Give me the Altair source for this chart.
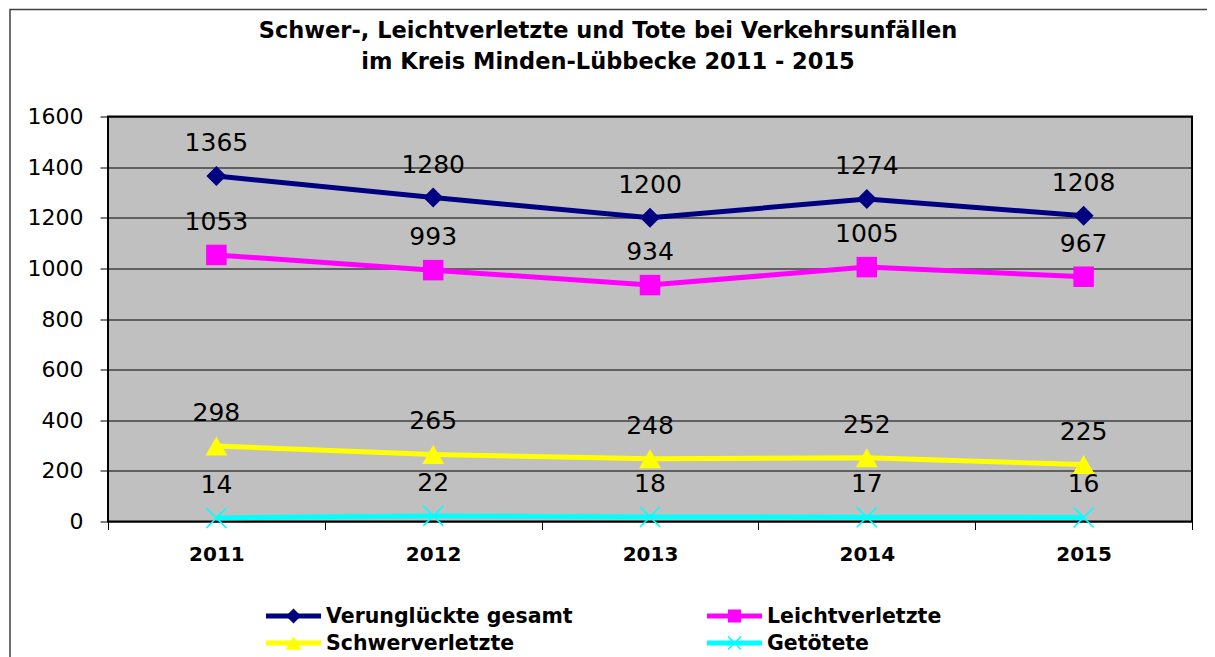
import altair as alt
import pandas as pd

years = ["2011", "2012", "2013", "2014", "2015"]
series = ["Verunglückte gesamt", "Leichtverletzte", "Schwerverletzte", "Getötete"]
gesamt = [1365, 1280, 1200, 1274, 1208]
leicht = [1053, 993, 934, 1005, 967]
schwer = [298, 265, 248, 252, 225]
tote = [14, 22, 18, 17, 16]
colors = ["#000080", "#FF00FF", "#FFFF00", "#00FFFF"]
y_ticks = [0, 200, 400, 600, 800, 1000, 1200, 1400, 1600]
title_lines = ["Schwer-, Leichtverletzte und Tote bei Verkehrsunfällen",
               "im Kreis Minden-Lübbecke 2011 - 2015"]

rows = []
for name, vals in zip(series, [gesamt, leicht, schwer, tote]):
    for yr, v in zip(years, vals):
        rows.append({"Jahr": yr, "Serie": name, "Wert": v})
df = pd.DataFrame(rows)

FONT = "DejaVu Sans"
color_scale = alt.Scale(domain=series, range=colors)

x_enc = alt.X("Jahr:N", sort=years,
              scale=alt.Scale(type="band", paddingInner=0, paddingOuter=0),
              axis=alt.Axis(title=None, labelAngle=0, tickBand="extent", domain=False,
                            grid=False, tickColor="black", tickSize=8, tickWidth=1,
                            labelFont=FONT, labelFontSize=20, labelFontWeight="bold",
                            labelColor="black", labelPadding=15))
y_enc = alt.Y("Wert:Q",
              scale=alt.Scale(domain=[0, 1600], nice=False),
              axis=alt.Axis(title=None, values=y_ticks, format="d", grid=True,
                            gridColor="black", gridOpacity=1, gridWidth=1, domain=False,
                            tickColor="black", tickSize=8,
                            labelFont=FONT, labelFontSize=22, labelColor="black",
                            labelPadding=17))

base = alt.Chart(df)

lines = base.mark_line(strokeWidth=5).encode(
    x=x_enc, y=y_enc,
    stroke=alt.Stroke("Serie:N", scale=color_scale, legend=None),
    detail="Serie:N",
)

marker_shapes = ["diamond", "square", "triangle-up", "M-1,-1L1,1M-1,1L1,-1"]
marker_sizes = [400, 420, 480, 400]
legend_sizes = [225, 170, 240, 170]

marker_layers = []
for i, name in enumerate(series):
    filled = i < 3
    mk = dict(shape=marker_shapes[i], size=marker_sizes[i], opacity=1, filled=filled)
    if filled:
        enc = dict(fill=alt.Fill("Serie:N", scale=color_scale, legend=None))
    else:
        mk["strokeWidth"] = 1.6
        enc = dict(stroke=alt.Stroke("Serie:N", scale=color_scale, legend=None))
    marker_layers.append(
        base.transform_filter(alt.datum.Serie == name)
        .mark_point(**mk).encode(x=x_enc, y=y_enc, **enc)
    )

labels = base.mark_text(font=FONT, fontSize=25, color="black", baseline="alphabetic",
                        align="center", dy=-25).encode(
    x=x_enc, y=y_enc, text="Wert:Q")

# ---- legend (2 columns x 2 rows), built from the series list ----
leg_df = pd.DataFrame({"name": series, "idx": list(range(len(series)))})
leg_base = alt.Chart(leg_df).transform_calculate(
    col="datum.idx % 2", row="floor(datum.idx / 2)")
LX = "158 + datum.col * 441"
LY = "499.5 + datum.row * 27"
leg_lines = leg_base.mark_rule(strokeWidth=5).encode(
    x=alt.value(alt.expr(LX)), x2=alt.value(alt.expr(LX + " + 55")),
    y=alt.value(alt.expr(LY)),
    stroke=alt.Stroke("name:N", scale=color_scale, legend=None))
leg_markers = []
for i, name in enumerate(series):
    filled = i < 3
    mk = dict(shape=marker_shapes[i], size=legend_sizes[i], opacity=1, filled=filled)
    if filled:
        enc = dict(fill=alt.Fill("name:N", scale=color_scale, legend=None))
    else:
        mk["strokeWidth"] = 1.5
        enc = dict(stroke=alt.Stroke("name:N", scale=color_scale, legend=None))
    leg_markers.append(
        leg_base.transform_filter(alt.datum.name == name).mark_point(**mk).encode(
            x=alt.value(alt.expr(LX + " + 27.5")), y=alt.value(alt.expr(LY)), **enc))
leg_text = leg_base.mark_text(font=FONT, fontSize=20.5, fontWeight="bold", color="black",
                              align="left", baseline="middle").encode(
    x=alt.value(alt.expr(LX + " + 60")), y=alt.value(alt.expr(LY + " + 1")),
    text="name:N")

title_1 = alt.Chart(alt.Data(values=[{"t": title_lines[0]}])).mark_text(
    font=FONT, fontSize=22.5, fontWeight="bold", color="black",
    align="center", baseline="middle").encode(
    x=alt.value(500), y=alt.value(-85.5), text="t:N")
title_2 = alt.Chart(alt.Data(values=[{"t": title_lines[1]}])).mark_text(
    font=FONT, fontSize=22.5, fontWeight="bold", color="black",
    align="center", baseline="middle").encode(
    x=alt.value(500), y=alt.value(-54.5), text="t:N")

border = alt.Chart(alt.Data(values=[{"a": 1}])).mark_rect(
    fill=None, stroke="#404040", strokeWidth=1.5).encode(
    x=alt.value(-98), x2=alt.value(1300), y=alt.value(-107), y2=alt.value(700))

chart = alt.layer(border, title_1, title_2, lines, *marker_layers, labels,
                  leg_lines, *leg_markers, leg_text).properties(
    width=1084, height=405,
    background="white",
    autosize=alt.AutoSizeParams(type="none"),
    padding={"left": 100, "top": 108.5, "right": 15, "bottom": 135.5},
).configure_view(fill="#C0C0C0", stroke="black", strokeWidth=2)

chart.save("out.html", embed_options={"renderer": "svg", "actions": False})
